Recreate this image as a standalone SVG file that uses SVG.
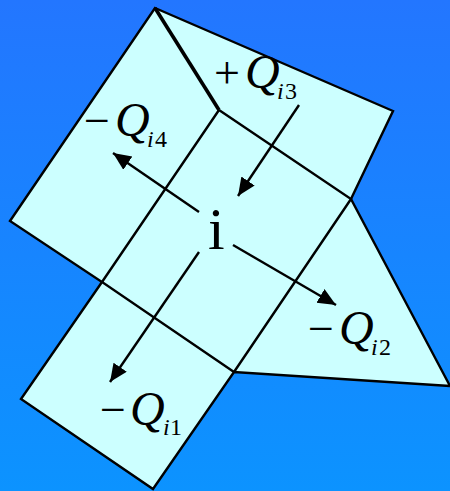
<svg xmlns="http://www.w3.org/2000/svg" width="450" height="491" viewBox="0 0 450 491">
<style>
.l{fill:none;stroke:#000;stroke-width:2.4;stroke-linejoin:miter}
.a{fill:none;stroke:#000;stroke-width:2.4}
.t{font-family:"Liberation Serif",serif;fill:#000;font-size:46px}
.q{font-size:48px;font-style:italic}
.n{font-size:24px;font-style:italic}
.s{font-size:24px}
</style>
<defs>
<linearGradient id="bg" x1="0" y1="0" x2="0" y2="1"><stop offset="0" stop-color="#2376ff"/><stop offset="1" stop-color="#0c93ff"/></linearGradient>
<marker id="ah" markerUnits="userSpaceOnUse" markerWidth="20" markerHeight="18" refX="18" refY="8" orient="auto"><path d="M0 0L18 8L0 16Z" fill="#000"/></marker>
</defs>
<rect width="450" height="491" fill="url(#bg)"/>
<g id="cell">
<path d="M155 8L393 111L351 199L450 386L234 372L153 489L21 399L102 282L10 221Z" fill="#ccffff" stroke="#000" stroke-width="2.4"/>
</g>
<g id="connectors">
<path d="M155 8L219 110" fill="none" stroke="#000" stroke-width="3.6"/>
<path class="l" d="M219 110L351 199L234 372"/>
<path class="l" d="M219 110L102 282L234 372"/>
<path class="a" d="M199 212L113 153" marker-end="url(#ah)"/>
<path class="a" d="M299 105L238 196" marker-end="url(#ah)"/>
<path class="a" d="M199 252L110 382" marker-end="url(#ah)"/>
<path class="a" d="M233 245L336 305" marker-end="url(#ah)"/>
</g>
<g id="labels">
<text class="t" style="font-size:60px" x="208" y="249">i</text>
<text id="q4" class="t" x="84" y="136">−<tspan class="q" x="115" y="136">Q</tspan><tspan class="n" x="147" y="147">i</tspan><tspan class="s" x="155" y="147">4</tspan></text>
<text id="q3" class="t" x="214" y="88">+<tspan class="q" x="245" y="88">Q</tspan><tspan class="n" x="277" y="99">i</tspan><tspan class="s" x="285" y="99">3</tspan></text>
<text id="q1" class="t" x="100" y="425">−<tspan class="q" x="130" y="425">Q</tspan><tspan class="n" x="163" y="435">i</tspan><tspan class="s" x="170" y="435">1</tspan></text>
<text id="q2" class="t" x="308" y="344">−<tspan class="q" x="339" y="344">Q</tspan><tspan class="n" x="371" y="355">i</tspan><tspan class="s" x="379" y="355">2</tspan></text>
</g>
</svg>
